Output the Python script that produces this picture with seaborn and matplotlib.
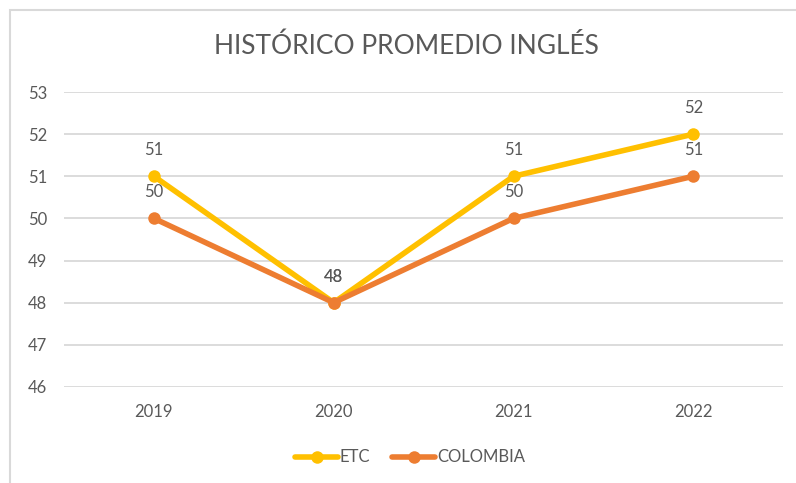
import matplotlib
matplotlib.use("Agg")
import matplotlib.pyplot as plt
import matplotlib.patches as mpatches
import seaborn as sns
import pandas as pd

years = ["2019", "2020", "2021", "2022"]
etc = [51, 48, 51, 52]
colombia = [50, 48, 50, 51]
series = ["ETC", "COLOMBIA"]
colors = {"ETC": "#FFC000", "COLOMBIA": "#ED7D31"}
yticks = [46, 47, 48, 49, 50, 51, 52, 53]

df = pd.DataFrame({
    "Año": years * 2,
    "Promedio": etc + colombia,
    "Serie": ["ETC"] * 4 + ["COLOMBIA"] * 4,
})

sns.set_style("white")
plt.rcParams["font.family"] = ["Lato", "DejaVu Sans"]
txt = "#595959"

fig = plt.figure(figsize=(7.96, 4.83), dpi=100)
ax = fig.add_axes([0.0804, 0.199, 0.9036, 0.6105])

sns.lineplot(data=df, x="Año", y="Promedio", hue="Serie", hue_order=series,
             palette=colors, marker="o", markersize=9, markeredgewidth=0,
             linewidth=4, ax=ax, legend=False, sort=False)

# data labels
for s, vals in zip(series, [etc, colombia]):
    for i, v in enumerate(vals):
        ax.annotate(str(v), (i, v), xytext=(0, 13), textcoords="offset points",
                    ha="center", va="bottom", fontsize=12, color=txt)

ax.set_xlim(-0.5, len(years) - 0.5)
ax.set_ylim(46, 53)
ax.set_yticks(yticks)
ax.yaxis.grid(True, color="#D9D9D9", linewidth=1.3)
ax.set_axisbelow(True)
for sp in ax.spines.values():
    sp.set_visible(False)
ax.tick_params(axis="both", length=0, labelsize=12, labelcolor=txt)
ax.tick_params(axis="y", pad=12)
ax.tick_params(axis="x", pad=12)
ax.set_xlabel("")
ax.set_ylabel("")

fig.text(0.51, 0.905, "HISTÓRICO PROMEDIO INGLÉS", ha="center", va="center",
         fontsize=19, color=txt)

handles = [plt.Line2D([], [], color=colors[s], marker="o", markersize=9,
                      markeredgewidth=0, linewidth=4) for s in series]
fig.legend(handles, series, loc="center", bbox_to_anchor=(0.515, 0.053),
           ncol=2, frameon=False, fontsize=12, labelcolor=txt,
           handlelength=2.6, handletextpad=0.1, columnspacing=1.3)

# chart frame
fig.patches.append(mpatches.Rectangle((10 / 796, -0.1), 1.0, 1 - 10 / 483 + 0.1,
                                      transform=fig.transFigure, fill=False,
                                      edgecolor="#D9D9D9", linewidth=1.5))

fig.savefig("out.png", dpi=100)
